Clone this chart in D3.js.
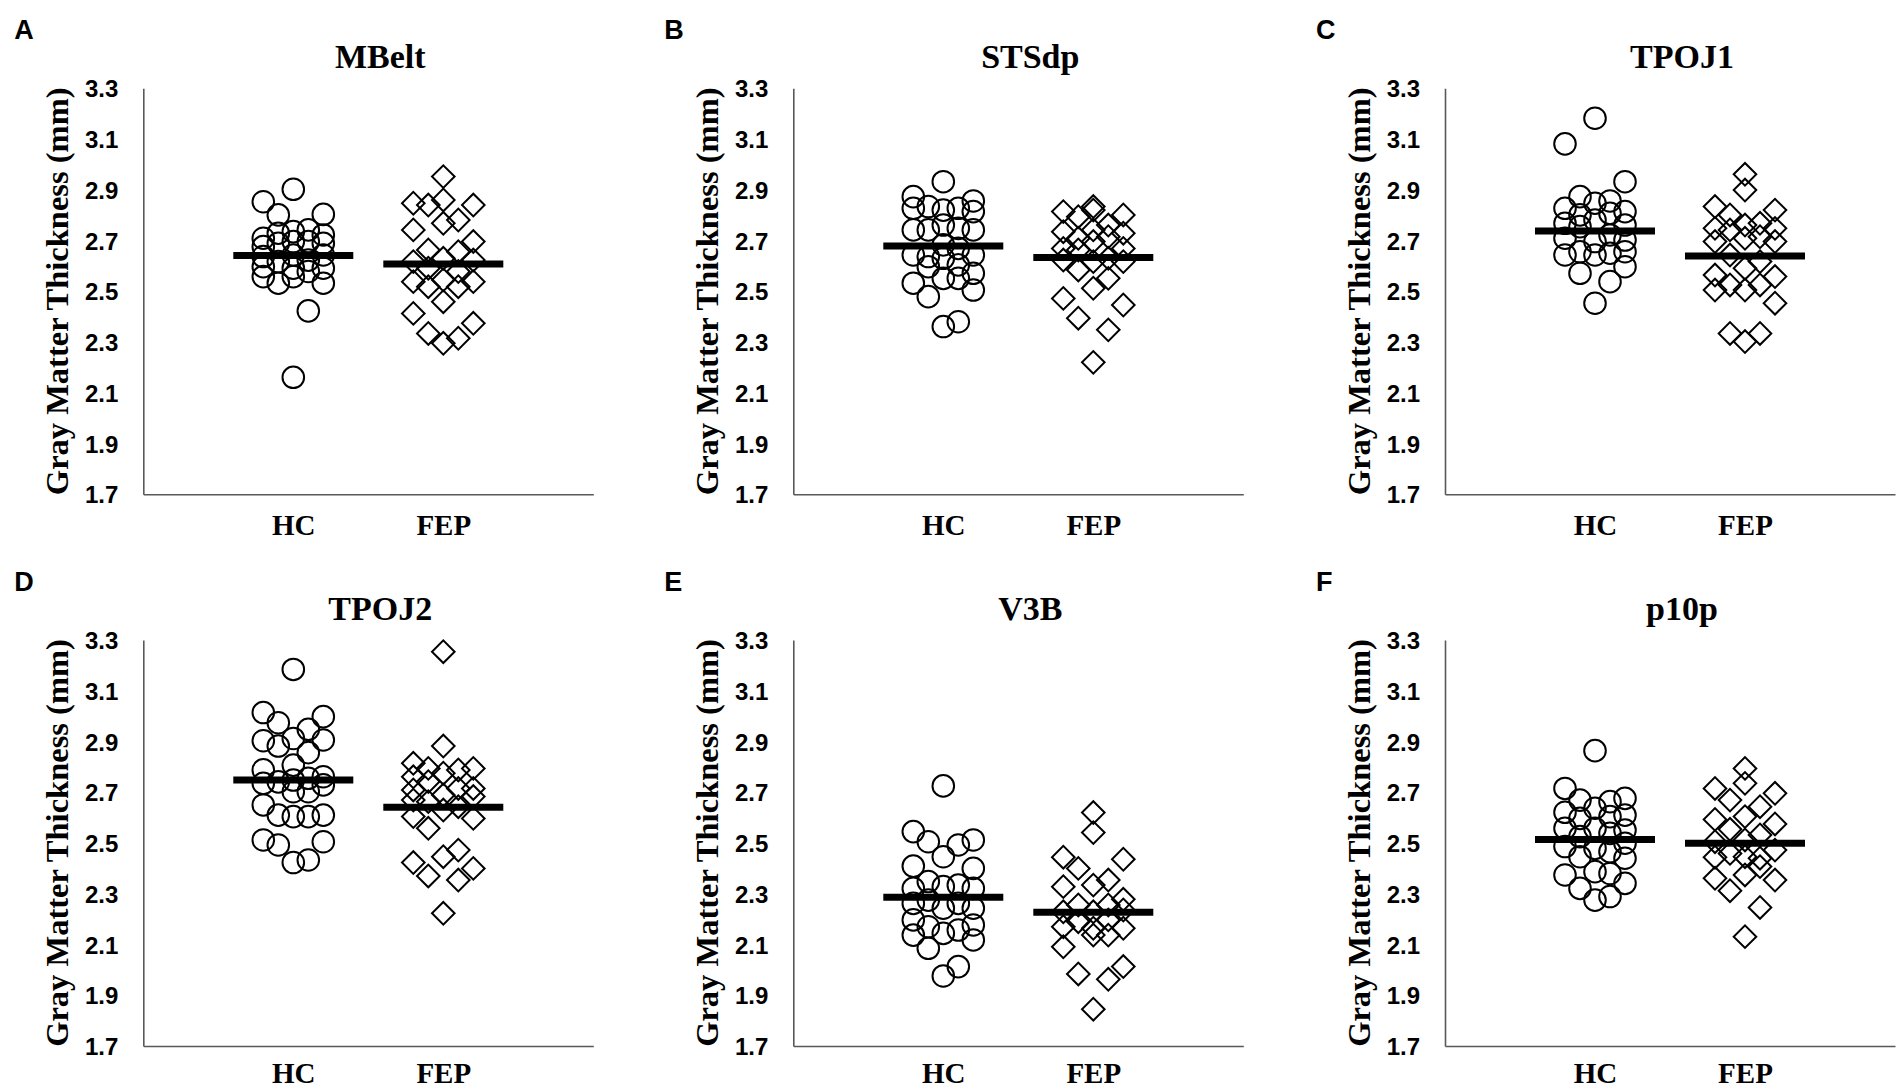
<!DOCTYPE html>
<html><head><meta charset="utf-8">
<script src="https://cdn.jsdelivr.net/npm/d3@7"></script>
<style>
html,body{margin:0;padding:0;background:#fff;}
svg{display:block;}
</style></head>
<body>
<svg id="chart" width="1904" height="1092"></svg>
<script>
// ---------- data ----------
const panelLetters = ["A","B","C","D","E","F"];
const panelTitles = ["MBelt","STSdp","TPOJ1","TPOJ2","V3B","p10p"];
const groups = ["HC","FEP"];
const groupX = [1, 2];
const jitterOffsets = [-0.2, -0.1, 0, 0.1, 0.2];
const yTicks = [1.7, 1.9, 2.1, 2.3, 2.5, 2.7, 2.9, 3.1, 3.3];
const yAxisTitle = "Gray Matter Thickness (mm)";

// values per jitter column (left to right)
const mbeltHC = [
  [2.853, 2.709, 2.676, 2.637, 2.597, 2.558],
  [2.801, 2.729, 2.689, 2.617, 2.532],
  [2.902, 2.735, 2.696, 2.643, 2.591, 2.558, 2.161],
  [2.742, 2.696, 2.623, 2.578, 2.423],
  [2.803, 2.722, 2.689, 2.643, 2.591, 2.532]];
const mbeltFEP = [
  [2.847, 2.742, 2.617, 2.538, 2.413],
  [2.840, 2.663, 2.591, 2.518, 2.334],
  [2.952, 2.860, 2.768, 2.630, 2.545, 2.459, 2.295],
  [2.781, 2.656, 2.578, 2.518, 2.315],
  [2.840, 2.696, 2.623, 2.538, 2.374]];
const stsdpHC = [
  [2.873, 2.827, 2.742, 2.643, 2.532],
  [2.834, 2.742, 2.637, 2.597, 2.479],
  [2.932, 2.820, 2.761, 2.683, 2.630, 2.551, 2.361],
  [2.827, 2.748, 2.669, 2.604, 2.551, 2.380],
  [2.856, 2.814, 2.742, 2.643, 2.571, 2.505]];
const stsdpFEP = [
  [2.814, 2.735, 2.669, 2.623, 2.472],
  [2.794, 2.709, 2.663, 2.584, 2.394],
  [2.834, 2.820, 2.742, 2.696, 2.617, 2.512, 2.220],
  [2.761, 2.715, 2.630, 2.551, 2.348],
  [2.801, 2.729, 2.669, 2.617, 2.446]];
const tpoj1HC = [
  [3.081, 2.827, 2.768, 2.709, 2.643],
  [2.873, 2.801, 2.755, 2.656, 2.571],
  [3.182, 2.847, 2.781, 2.696, 2.643, 2.453],
  [2.856, 2.807, 2.722, 2.650, 2.538],
  [2.932, 2.814, 2.761, 2.702, 2.656, 2.597]];
const tpoj1FEP = [
  [2.834, 2.748, 2.696, 2.564, 2.505],
  [2.801, 2.742, 2.643, 2.525, 2.334],
  [2.961, 2.899, 2.761, 2.709, 2.591, 2.505, 2.302],
  [2.768, 2.715, 2.617, 2.525, 2.334],
  [2.820, 2.748, 2.696, 2.558, 2.453]];
const tpoj2HC = [
  [3.014, 2.903, 2.788, 2.735, 2.650, 2.512],
  [2.974, 2.882, 2.741, 2.610, 2.492],
  [3.184, 2.912, 2.807, 2.748, 2.702, 2.604, 2.423],
  [2.948, 2.856, 2.755, 2.702, 2.604, 2.433],
  [2.998, 2.906, 2.761, 2.729, 2.610, 2.505]];
const tpoj2FEP = [
  [2.814, 2.761, 2.709, 2.669, 2.604, 2.423],
  [2.794, 2.742, 2.663, 2.558, 2.370],
  [3.254, 2.882, 2.775, 2.689, 2.630, 2.446, 2.223],
  [2.788, 2.715, 2.643, 2.472, 2.354],
  [2.794, 2.715, 2.683, 2.597, 2.400]];
const v3bHC = [
  [2.545, 2.409, 2.321, 2.262, 2.197, 2.137],
  [2.505, 2.348, 2.275, 2.170, 2.085],
  [2.725, 2.446, 2.328, 2.243, 2.144, 1.976],
  [2.492, 2.334, 2.262, 2.157, 2.013],
  [2.512, 2.400, 2.321, 2.243, 2.177, 2.118]];
const v3bFEP = [
  [2.444, 2.328, 2.229, 2.170, 2.091],
  [2.400, 2.256, 2.190, 1.984],
  [2.620, 2.541, 2.334, 2.229, 2.164, 2.137, 1.845],
  [2.354, 2.256, 2.197, 2.137, 1.963],
  [2.436, 2.278, 2.236, 2.164, 2.013]];
const p10pHC = [
  [2.715, 2.621, 2.558, 2.486, 2.374],
  [2.669, 2.597, 2.525, 2.446, 2.321],
  [2.864, 2.637, 2.558, 2.479, 2.387, 2.275],
  [2.663, 2.604, 2.538, 2.466, 2.380, 2.289],
  [2.676, 2.610, 2.551, 2.499, 2.440, 2.341]];
const p10pFEP = [
  [2.715, 2.593, 2.505, 2.444, 2.361],
  [2.669, 2.554, 2.459, 2.312],
  [2.794, 2.735, 2.604, 2.512, 2.446, 2.374, 2.131],
  [2.643, 2.532, 2.440, 2.407, 2.246],
  [2.696, 2.575, 2.472, 2.354]];
const hcData = [mbeltHC, stsdpHC, tpoj1HC, tpoj2HC, v3bHC, p10pHC];
const fepData = [mbeltFEP, stsdpFEP, tpoj1FEP, tpoj2FEP, v3bFEP, p10pFEP];
const hcMeans = [2.641, 2.679, 2.738, 2.748, 2.286, 2.514];
const fepMeans = [2.608, 2.633, 2.639, 2.641, 2.227, 2.499];

// ---------- layout ----------
const axisLeft = [143.3, 793.3, 1445];
const axisTop = [88.3, 640];
const xLabelPad = [20, 16];
const plotW = 450, plotH = 406;
const serif = "'Liberation Serif','Times New Roman',serif";
const sans = "'Liberation Sans',Arial,sans-serif";

const svg = d3.select("#chart");
svg.append("rect").attr("width",1904).attr("height",1092).attr("fill","#fff");

const circleSym = d3.symbol().type(d3.symbolCircle).size(Math.PI*10.8*10.8);
const diamondSym = d3.symbol().type(d3.symbolSquare).size(2*11.3*11.3);

panelTitles.forEach((title, i) => {
  const col = i % 3, row = Math.floor(i / 3);
  const ox = axisLeft[col], oy = axisTop[row];
  const g = svg.append("g").attr("transform", `translate(${ox},${oy})`);
  const x = d3.scaleLinear().domain([0, 3]).range([0, plotW]);
  const y = d3.scaleLinear().domain([1.7, 3.3]).range([plotH, 0]);

  // panel letter
  svg.append("text").attr("x", ox - 129).attr("y", oy - 49)
    .attr("font-family", sans).attr("font-weight", "bold").attr("font-size", 27)
    .attr("fill", "#000").text(panelLetters[i]);
  // title
  g.append("text").attr("x", 237).attr("y", -20).attr("text-anchor", "middle")
    .attr("font-family", serif).attr("font-weight", "bold").attr("font-size", 34)
    .attr("fill", "#000").text(title);
  // y axis title
  g.append("text").attr("transform", `translate(-75,${plotH/2}) rotate(-90)`)
    .attr("text-anchor", "middle").attr("font-family", serif).attr("font-weight", "bold")
    .attr("font-size", 32.5).attr("fill", "#000").text(yAxisTitle);

  // y axis
  const yAxis = d3.axisLeft(y).tickValues(yTicks).tickFormat(d3.format(".1f")).tickSize(0).tickPadding(25);
  const ya = g.append("g").call(yAxis);
  ya.select(".domain").attr("stroke", "#595959").attr("stroke-width", 1.6);
  ya.selectAll("text").attr("font-family", sans).attr("font-weight", "bold")
    .attr("font-size", 24).attr("fill", "#000").attr("dy", "0.36em");

  // x axis
  const xAxis = d3.axisBottom(x).tickValues(groupX).tickFormat((d, k) => groups[k]).tickSize(0).tickPadding(xLabelPad[row]);
  const xa = g.append("g").attr("transform", `translate(0,${plotH})`).call(xAxis);
  xa.select(".domain").attr("stroke", "#595959").attr("stroke-width", 1.6);
  xa.selectAll("text").attr("font-family", serif).attr("font-weight", "bold")
    .attr("font-size", 29).attr("fill", "#000");

  // points
  const hcPts = [], fepPts = [];
  hcData[i].forEach((vals, c) => vals.forEach(v => hcPts.push([groupX[0] + jitterOffsets[c], v])));
  fepData[i].forEach((vals, c) => vals.forEach(v => fepPts.push([groupX[1] + jitterOffsets[c], v])));

  g.selectAll("path.hc").data(hcPts).enter().append("path").attr("class", "hc")
    .attr("d", circleSym)
    .attr("transform", d => `translate(${x(d[0])},${y(d[1])})`)
    .attr("fill", "none").attr("stroke", "#000").attr("stroke-width", 2);
  g.selectAll("path.fep").data(fepPts).enter().append("path").attr("class", "fep")
    .attr("d", diamondSym)
    .attr("transform", d => `translate(${x(d[0])},${y(d[1])}) rotate(45)`)
    .attr("fill", "none").attr("stroke", "#000").attr("stroke-width", 2);

  // mean lines
  const means = [hcMeans[i], fepMeans[i]];
  g.selectAll("line.mean").data(means).enter().append("line").attr("class", "mean")
    .attr("x1", (d, k) => x(groupX[k] - 0.4)).attr("x2", (d, k) => x(groupX[k] + 0.4))
    .attr("y1", d => y(d)).attr("y2", d => y(d))
    .attr("stroke", "#000").attr("stroke-width", 7);
});
</script>
</body></html>
